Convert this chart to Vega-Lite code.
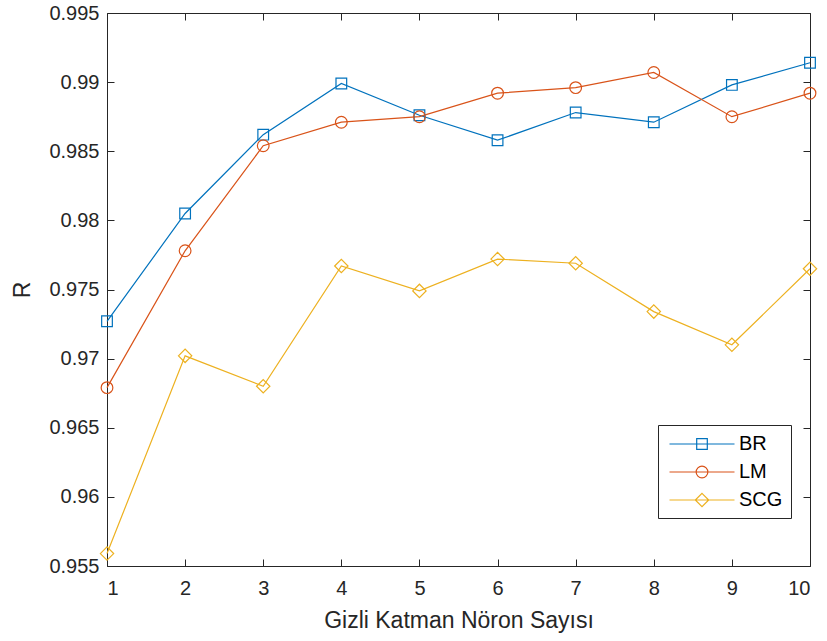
{
  "$schema": "https://vega.github.io/schema/vega-lite/v6.json",
  "autosize": {"type": "none"},
  "padding": {"left": 107, "top": 13, "right": 17, "bottom": 75},
  "width": 703,
  "height": 553,
  "background": "white",
  "config": {
    "view": {"stroke": null},
    "font": "Liberation Sans",
    "axis": {
      "domainColor": "#262626",
      "domainWidth": 1,
      "tickColor": "#262626",
      "tickWidth": 1,
      "tickSize": -7,
      "labelFont": "Liberation Sans",
      "labelFontSize": 20,
      "labelColor": "#262626",
      "titleFont": "Liberation Sans",
      "titleFontSize": 23,
      "titleFontWeight": "normal",
      "titleColor": "#262626",
      "grid": false
    }
  },
  "data": {
    "values": [
      {"n": 1, "alg": "BR", "R": 0.9727}, {"n": 2, "alg": "BR", "R": 0.9805}, {"n": 3, "alg": "BR", "R": 0.9862},
      {"n": 4, "alg": "BR", "R": 0.9899}, {"n": 5, "alg": "BR", "R": 0.9876}, {"n": 6, "alg": "BR", "R": 0.9858},
      {"n": 7, "alg": "BR", "R": 0.9878}, {"n": 8, "alg": "BR", "R": 0.9871}, {"n": 9, "alg": "BR", "R": 0.9898},
      {"n": 10, "alg": "BR", "R": 0.9914},
      {"n": 1, "alg": "LM", "R": 0.9679}, {"n": 2, "alg": "LM", "R": 0.9778}, {"n": 3, "alg": "LM", "R": 0.9854},
      {"n": 4, "alg": "LM", "R": 0.9871}, {"n": 5, "alg": "LM", "R": 0.9875}, {"n": 6, "alg": "LM", "R": 0.9892},
      {"n": 7, "alg": "LM", "R": 0.9896}, {"n": 8, "alg": "LM", "R": 0.9907}, {"n": 9, "alg": "LM", "R": 0.9875},
      {"n": 10, "alg": "LM", "R": 0.9892},
      {"n": 1, "alg": "SCG", "R": 0.9559}, {"n": 2, "alg": "SCG", "R": 0.9702}, {"n": 3, "alg": "SCG", "R": 0.9680},
      {"n": 4, "alg": "SCG", "R": 0.9767}, {"n": 5, "alg": "SCG", "R": 0.9749}, {"n": 6, "alg": "SCG", "R": 0.9772},
      {"n": 7, "alg": "SCG", "R": 0.9769}, {"n": 8, "alg": "SCG", "R": 0.9734}, {"n": 9, "alg": "SCG", "R": 0.9710},
      {"n": 10, "alg": "SCG", "R": 0.9765}
    ]
  },
  "encoding": {
    "color": {
      "field": "alg",
      "type": "nominal",
      "scale": {"domain": ["BR", "LM", "SCG"], "range": ["#0072BD", "#D95319", "#EDB120"]},
      "legend": {
        "title": null,
        "orient": "none",
        "legendX": 551,
        "legendY": 412,
        "direction": "vertical",
        "padding": 8,
        "strokeColor": "#262626",
        "fillColor": "white",
        "labelFont": "Liberation Sans",
        "labelFontSize": 20,
        "labelColor": "#000000",
        "symbolType": "M-3.25,0H3.25",
        "symbolSize": 400,
        "symbolOffset": 25,
        "labelOffset": 26,
        "rowPadding": 7,
        "symbolStrokeWidth": 1.2,
        "symbolOpacity": 1,
        "encode": {
          "symbols": {
            "update": {
              "shape": {"signal": "datum.value === 'BR' ? 'M-3.25,0H3.25M-0.53,-0.53H0.53V0.53H-0.53Z' : datum.value === 'LM' ? 'M-3.25,0H3.25M0.585,0A0.585,0.585 0 1,1 -0.585,0A0.585,0.585 0 1,1 0.585,0Z' : 'M-3.25,0H3.25M0,-0.67L0.67,0L0,0.67L-0.67,0Z'"},
              "fill": {"value": "transparent"},
              "opacity": {"value": 1},
              "strokeWidth": {"value": 1.2}
            }
          }
        }
      }
    }
  },
  "layer": [
    {
      "mark": {"type": "line", "strokeWidth": 1.2},
      "encoding": {
        "x": {
          "field": "n", "type": "quantitative",
          "scale": {"domain": [1, 10], "nice": false, "zero": false},
          "axis": {"orient": "bottom", "values": [1,2,3,4,5,6,7,8,9,10], "format": "d", "title": "Gizli Katman Nöron Sayısı", "labelPadding": 19, "titlePadding": 11}
        },
        "y": {
          "field": "R", "type": "quantitative",
          "scale": {"domain": [0.955, 0.995], "nice": false, "zero": false},
          "axis": {"orient": "left", "values": [0.955,0.96,0.965,0.97,0.975,0.98,0.985,0.99,0.995], "format": ".3~f", "title": "R", "labelPadding": 15, "titlePadding": 14}
        }
      }
    },
    {
      "transform": [{"filter": "datum.alg === 'BR'"}],
      "mark": {"type": "point", "shape": "square", "size": 114, "filled": false, "strokeWidth": 1.2, "opacity": 1},
      "encoding": {
        "x": {
          "field": "n", "type": "quantitative",
          "scale": {"domain": [1, 10], "nice": false, "zero": false},
          "axis": {"orient": "top", "values": [1,2,3,4,5,6,7,8,9,10], "labels": false, "title": null}
        },
        "y": {
          "field": "R", "type": "quantitative",
          "scale": {"domain": [0.955, 0.995], "nice": false, "zero": false},
          "axis": {"orient": "right", "values": [0.955,0.96,0.965,0.97,0.975,0.98,0.985,0.99,0.995], "labels": false, "title": null}
        }
      }
    },
    {
      "transform": [{"filter": "datum.alg === 'LM'"}],
      "mark": {"type": "point", "shape": "circle", "size": 137, "filled": false, "strokeWidth": 1.2, "opacity": 1},
      "encoding": {
        "x": {"field": "n", "type": "quantitative", "scale": {"domain": [1, 10], "nice": false, "zero": false}, "axis": null},
        "y": {"field": "R", "type": "quantitative", "scale": {"domain": [0.955, 0.995], "nice": false, "zero": false}, "axis": null}
      }
    },
    {
      "transform": [{"filter": "datum.alg === 'SCG'"}],
      "mark": {"type": "point", "shape": "diamond", "size": 178, "filled": false, "strokeWidth": 1.2, "opacity": 1},
      "encoding": {
        "x": {"field": "n", "type": "quantitative", "scale": {"domain": [1, 10], "nice": false, "zero": false}, "axis": null},
        "y": {"field": "R", "type": "quantitative", "scale": {"domain": [0.955, 0.995], "nice": false, "zero": false}, "axis": null}
      }
    }
  ],
  "resolve": {"axis": {"x": "independent", "y": "independent"}}
}
